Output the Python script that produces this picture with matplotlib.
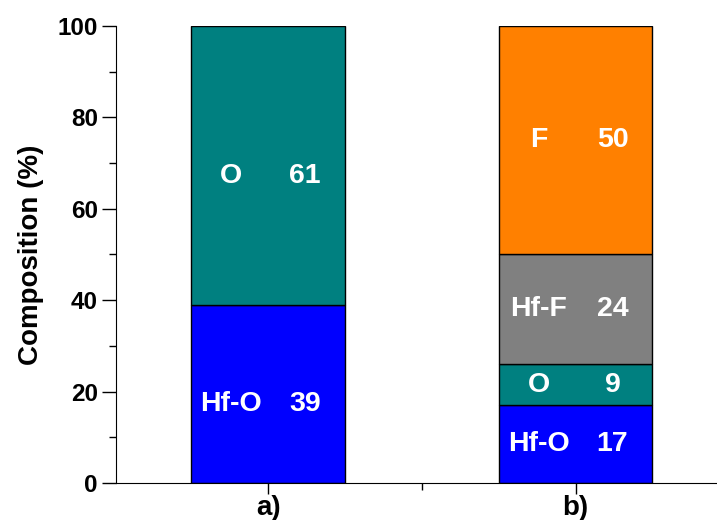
import matplotlib.pyplot as plt
import numpy as np

plt.rcParams['font.family'] = ['Liberation Sans', 'DejaVu Sans']
plt.rcParams['font.weight'] = 'bold'

samples = ["a)", "b)"]
# segments from bottom to top for each sample
seg_names = [["Hf-O", "O"], ["Hf-O", "O", "Hf-F", "F"]]
seg_values = [[39, 61], [17, 9, 24, 50]]
seg_colors = {"Hf-O": "#0000FF", "O": "#008080", "Hf-F": "#808080", "F": "#FF8000"}

fig = plt.figure(figsize=(7.17, 5.2), dpi=100)
ax = fig.add_axes([0.1618, 0.0712, 0.8382, 0.8788])

pos = np.arange(1, len(samples) + 1)
for i in range(len(samples)):
    bottom = 0
    for name, v in zip(seg_names[i], seg_values[i]):
        ax.bar(pos[i], v, bottom=bottom, width=0.5, color=seg_colors[name],
               edgecolor="black", linewidth=1)
        yc = bottom + v / 2
        if i == 0:
            yc -= 2.3
        ax.text(pos[i] - 0.12, yc, name, color="white", fontsize=20.5,
                fontweight="bold", ha="center", va="center")
        ax.text(pos[i] + 0.12, yc, str(v), color="white", fontsize=20.5,
                fontweight="bold", ha="center", va="center")
        bottom += v

ax.set_xlim(0.505, 2.46)
ax.set_ylim(0, 100)
ax.set_xticks(pos)
ax.set_xticklabels(samples, fontsize=20, fontweight="bold")
ax.set_xticks([1.5], minor=True)
ax.set_yticks(np.arange(0, 101, 20))
ax.set_yticks(np.arange(10, 100, 20), minor=True)
ax.tick_params(axis="y", labelsize=17.5, length=10, width=1, pad=3)
ax.tick_params(axis="y", which="minor", length=5, width=1)
ax.tick_params(axis="x", length=8, width=1, pad=1)
ax.tick_params(axis="x", which="minor", length=5, width=1)
for lab in ax.get_yticklabels():
    lab.set_fontweight("bold")
ax.set_ylabel("Composition (%)", fontsize=20, fontweight="bold", labelpad=10)

ax.spines["top"].set_visible(False)
ax.spines["right"].set_visible(False)

fig.savefig("out.png", dpi=100)
